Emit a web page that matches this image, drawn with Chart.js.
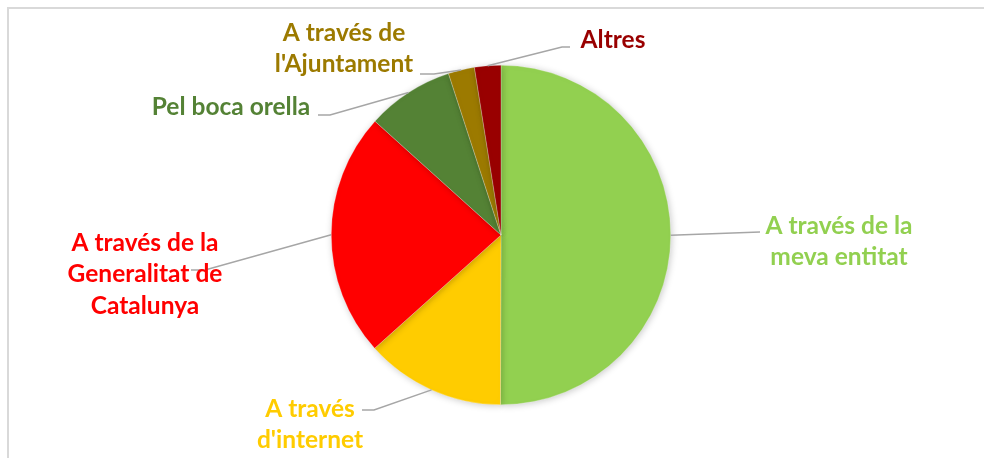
<!DOCTYPE html>
<html>
<head>
<meta charset="utf-8">
<script src="https://cdn.jsdelivr.net/npm/chart.js@4"></script>
<style>
  html, body { margin: 0; padding: 0; background: #fff; }
  #wrap { position: relative; width: 984px; height: 458px; overflow: hidden; }
  #frame { position: absolute; left: 7px; top: 7px; width: 1000px; height: 500px;
           border-top: 2px solid #d9d9d9; border-left: 2px solid #d9d9d9; box-sizing: border-box; }
  canvas { position: absolute; left: 0; top: 0; }
</style>
</head>
<body>
<div id="wrap">
  <div id="frame"></div>
  <canvas id="c" width="984" height="458"></canvas>
</div>
<script>
const labels = [
  ['A través de la', 'meva entitat'],
  ['A través', "d'internet"],
  ['A través de la', 'Generalitat de', 'Catalunya'],
  ['Pel boca orella'],
  ['A través de', "l'Ajuntament"],
  ['Altres']
];
const values = [50, 13.3, 23.3, 8.3, 2.5, 2.5];
const colors = ['#92D050', '#FFCC00', '#FF0000', '#548235', '#9C7A00', '#990000'];

// where each label sits: text centre, first line y, and the elbow of its leader line
const labelPos = [
  { x: 839, y: 226, ex: 760, ey: 232 },
  { x: 310, y: 409, ex: 374, ey: 410 },
  { x: 145, y: 243, ex: 205, ey: 270 },
  { x: 231, y: 107, ex: 330, ey: 115 },
  { x: 344, y: 33,  ex: 434, ey: 74 },
  { x: 613, y: 40,  ex: 562, ey: 47 }
];
const tailLen = [0, 12, 14, 12, 14, 8];
const lineH = 31.5;

const shadowPlugin = {
  id: 'shadow',
  beforeDatasetDraw(chart) {
    const ctx = chart.ctx;
    ctx.save();
    ctx.shadowColor = 'rgba(0,0,0,0.22)';
    ctx.shadowBlur = 7;
    ctx.shadowOffsetX = 1;
    ctx.shadowOffsetY = 1;
  },
  afterDatasetDraw(chart) {
    chart.ctx.restore();
  }
};

const leaderPlugin = {
  id: 'leaders',
  afterDatasetsDraw(chart) {
    const ctx = chart.ctx;
    const arcs = chart.getDatasetMeta(0).data;
    ctx.save();
    ctx.font = 'bold 24.5px Lato, "Open Sans", sans-serif';
    ctx.textAlign = 'center';
    ctx.textBaseline = 'middle';
    arcs.forEach((arc, i) => {
      const p = arc.getProps(['x', 'y', 'startAngle', 'endAngle', 'outerRadius'], true);
      const mid = (p.startAngle + p.endAngle) / 2;
      const ax = p.x + Math.cos(mid) * p.outerRadius;
      const ay = p.y + Math.sin(mid) * p.outerRadius;
      const lp = labelPos[i];
      const dir = lp.ex < ax ? -1 : 1;
      ctx.strokeStyle = '#a6a6a6';
      ctx.lineWidth = 1.5;
      ctx.beginPath();
      ctx.moveTo(ax, ay);
      ctx.lineTo(lp.ex, lp.ey);
      ctx.lineTo(lp.ex + dir * tailLen[i], lp.ey);
      ctx.stroke();
      ctx.fillStyle = colors[i];
      labels[i].forEach((t, k) => ctx.fillText(t, lp.x, lp.y + k * lineH));
    });
    ctx.restore();
  }
};

new Chart(document.getElementById('c'), {
  type: 'pie',
  data: {
    labels: labels.map(l => l.join(' ')),
    datasets: [{
      data: values,
      backgroundColor: colors,
      borderColor: 'rgba(255,255,255,0.5)',
      borderWidth: 0.5
    }]
  },
  options: {
    responsive: false,
    animation: false,
    layout: { padding: { left: 331, right: 313, top: 65, bottom: 53 } },
    plugins: { legend: { display: false }, tooltip: { enabled: false } }
  },
  plugins: [shadowPlugin, leaderPlugin]
});
</script>
</body>
</html>
